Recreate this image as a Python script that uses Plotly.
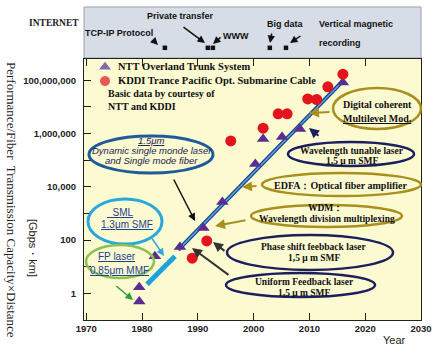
import plotly.graph_objects as go

# ---------------- data ----------------
ntt_year = [1979.5, 1979.5, 1982.3, 1986.8, 1991.0, 1994.4, 2000.3, 2001.7, 2005.1, 2008.3, 2016.0]
ntt_value = [1.7, 0.5, 25, 55, 285, 2700, 72000, 630000, 750000, 1.5e6, 8.3e7]

kddi_year = [1989.0, 1991.6, 1995.9, 2001.7, 2004.4, 2006.0, 2009.7, 2011.3, 2013.3, 2016.0]
kddi_value = [21, 93, 5.3e5, 1.6e6, 5.5e6, 5.5e6, 2.0e7, 1.9e7, 5.7e7, 1.7e8]

sml_trend_year = [1980.9, 1985.9]
sml_trend_value = [2.2, 25]
trend_year = [1986.5, 2016.0]
trend_value = [43, 9.5e7]

internet_year = [1984.1, 1991.8, 1992.7, 2002.9, 2005.8]
internet_level = [0.2, 0.2, 0.2, 0.2, 0.2]

series_names = ["NTT Overland Trunk System", "KDDI Trance Pacific Opt. Submarine Cable"]

x_ticks = [1970, 1980, 1990, 2000, 2010, 2020, 2030]
y_tickvals = [1, 10, 100, 1e3, 1e4, 1e5, 1e6, 1e7, 1e8]
y_ticktext = ["1", "", "100", "", "10,000", "", "1,000,000", "", "100,000,000"]

# ---------------- layout helpers (pixel -> paper) ----------------
W, H = 440, 348
L, R, T, B = 84, 421, 7, 320
PT = 59  # top of main plot


def PX(px):
    return (px - L) / (R - L)


def PY(py):
    return (B - py) / (B - T)


def FY(py):  # fraction of main plot height
    return (B - py) / (B - PT)


SERIF = "Liberation Serif"
SANS = "Liberation Sans"
PURPLE = "#5a2d91"
RED = "#e3141c"
NAVY = "#1b1f5e"
GOLD = "#a88f1f"
LBLUE = "#2aa7df"
GREEN = "#8cc152"
STEEL = "#1f5b99"

fig = go.Figure()

fig.add_trace(go.Scatter(x=sml_trend_year, y=sml_trend_value, mode="lines",
                         line=dict(color="#1aa3dd", width=5), showlegend=False, hoverinfo="skip"))
fig.add_trace(go.Scatter(x=trend_year, y=trend_value, mode="lines",
                         line=dict(color="#1d3f8a", width=4), showlegend=False, hoverinfo="skip"))
fig.add_trace(go.Scatter(x=trend_year, y=trend_value, mode="lines",
                         line=dict(color="#4fa6e0", width=1.5), showlegend=False, hoverinfo="skip"))

fig.add_trace(go.Scatter(x=ntt_year, y=ntt_value, mode="markers", name=series_names[0],
                         marker=dict(symbol="triangle-up", size=11, color=PURPLE), showlegend=False))
fig.add_trace(go.Scatter(x=kddi_year, y=kddi_value, mode="markers", name=series_names[1],
                         marker=dict(symbol="circle", size=11, color=RED), showlegend=False))

fig.add_trace(go.Scatter(x=internet_year, y=internet_level, mode="markers", xaxis="x2", yaxis="y2",
                         marker=dict(symbol="square", size=4.5, color="#111"),
                         showlegend=False, hoverinfo="skip"))

# legend glyphs (drawn on a helper overlay axis in plot-fraction units)
fig.add_trace(go.Scatter(x=[PX(105), PX(105)], y=[FY(67), FY(81)], mode="markers", xaxis="x3", yaxis="y4",
                         marker=dict(symbol=["triangle-up", "circle"], size=[12, 11], color=[PURPLE, RED]),
                         showlegend=False, hoverinfo="skip"))

shapes = []
shapes.append(dict(type="rect", xref="paper", yref="paper", x0=0, x1=1, y0=PY(58), y1=PY(7),
                   fillcolor="#d7dde6", line=dict(color="#9aa0a8", width=1), layer="below"))

ellipses = [
    (89, 213, 136, 173, STEEL, 3),
    (88, 162, 199, 244, LBLUE, 3),
    (86, 154, 245, 278, GREEN, 2.5),
    (333, 421, 88, 129, GOLD, 2.5),
    (288, 414, 142, 166, NAVY, 2.5),
    (262, 421, 173, 196, GOLD, 2.5),
    (251, 402, 205, 227, GOLD, 2.5),
    (227, 393, 235, 270, NAVY, 2.5),
    (226, 375, 273, 297, NAVY, 2.5),
]
for x0, x1, y0, y1, c, w in ellipses:
    shapes.append(dict(type="circle", xref="paper", yref="paper", x0=PX(x0), x1=PX(x1),
                       y0=PY(y1), y1=PY(y0), line=dict(color=c, width=w)))

ann = []


def text(cx, cy, s, size=10, family=SERIF, color="#111", xanchor="center", angle=0):
    ann.append(dict(x=PX(cx), y=PY(cy), xref="paper", yref="paper", text=s, showarrow=False,
                    xanchor=xanchor, yanchor="middle", textangle=angle,
                    font=dict(size=size, family=family, color=color)))


def arrow(tx, ty, hx, hy, color="#111", width=1.5):
    ann.append(dict(x=PX(hx), y=PY(hy), xref="paper", yref="paper", text="", showarrow=True,
                    ax=tx - hx, ay=ty - hy, arrowhead=2, arrowsize=1, arrowwidth=width,
                    arrowcolor=color))


# internet bar texts
text(54, 23, "<b>INTERNET</b>", 9.5, SERIF, "#222")
text(119, 33, "<b>TCP-IP Protocol</b>", 9, SANS, "#111")
text(180, 16, "<b>Private transfer</b>", 9, SANS, "#111")
text(236, 36, "<b>WWW</b>", 9, SANS, "#111")
text(285, 24, "<b>Big data</b>", 9, SANS, "#111")
text(317, 24, "<b>Vertical magnetic</b>", 9, SANS, "#111", xanchor="left")
text(317, 43, "<b>recording</b>", 9, SANS, "#111", xanchor="left")
arrow(152, 39, 158, 45)
arrow(182, 26, 205, 43)
arrow(222, 36, 213, 44)
arrow(272, 32, 270, 43)
arrow(302, 35, 290, 43)

# legend texts
text(116, 66, "<b>" + series_names[0] + "</b>", 10.5, SERIF, "#111", xanchor="left")
text(116, 81, "<b>" + series_names[1] + "</b>", 10.5, SERIF, "#111", xanchor="left")
text(106, 94, "<b>Basic data by courtesy of</b>", 10, SERIF, "#111", xanchor="left")
text(106, 106, "<b>NTT and KDDI</b>", 10, SERIF, "#111", xanchor="left")

# ellipse texts
text(151, 140, "<i><u>1.5μm</u></i>", 9.5, SANS, "#1a2450")
text(152, 150, "<i>Dynamic single monde laser</i>", 9.5, SANS, "#1a2450")
text(151, 161, "<i>and Single mode fiber</i>", 9.5, SANS, "#1a2450")

text(120, 212, "<u>  SML</u>", 10, SANS, "#1f3f8f")
text(127, 224, "<u>1.3μm SMF</u>", 10, SANS, "#1f3f8f")
text(117, 256, "<u>FP laser</u>", 10, SANS, "#1f3f8f")
text(119, 270, "<u>0.85μm MMF</u>", 10, SANS, "#1f3f8f")

text(377, 105, "<b>Digital coherent</b>", 10, SERIF)
text(377, 118, "<b><u>Multilevel Mod.</u></b>", 10, SERIF)
text(352, 151, "<b>Wavelength tunable laser</b>", 9.5, SERIF)
text(352, 161, "<b>1,5 μ m SMF</b>", 9.5, SERIF)
text(341, 185, "<b>EDFA：Optical fiber amplifier</b>", 10, SERIF)
text(325, 208, "<b>WDM：</b>", 9.5, SERIF)
text(327, 219, "<b>Wavelength division multiplexing</b>", 9.5, SERIF)
text(314, 247, "<b>Phase shift feebback laser</b>", 9.5, SERIF)
text(314, 258, "<b>1,5 μ m SMF</b>", 9.5, SERIF)
text(304, 282, "<b>Uniform Feedback laser</b>", 9.5, SERIF)
text(304, 293, "<b>1,5 μ m SMF</b>", 9.5, SERIF)

# arrows in plot
arrow(173, 178, 195, 221, "#111", 1.5)
arrow(151, 237, 164, 256, LBLUE, 1.5)
arrow(115, 285, 133, 300, "#2e9a3a", 1.5)
arrow(331, 112, 309, 113, GOLD, 2)
arrow(320, 137, 309, 128, NAVY, 2)
arrow(258, 186, 242, 187, GOLD, 2)
arrow(247, 220, 215, 226, GOLD, 2)
arrow(226, 252, 213, 242, "#333", 2)
arrow(230, 276, 192, 248, "#333", 2)

# axis titles
text(12, 200, "Performance/Fiber  Transmission Capacity×Distance", 13, SERIF, "#222", angle=90)
text(33, 248, "[Gbps・km]", 11, SANS, "#222", angle=90)
text(394, 340, "Year", 11, SANS, "#222")

main_dom = [0, (B - PT) / (B - T)]

fig.update_layout(
    width=W, height=H,
    margin=dict(l=L, r=W - R, t=T, b=H - B),
    paper_bgcolor="white",
    plot_bgcolor="#fcfad0",
    shapes=shapes,
    annotations=ann,
    showlegend=False,
    xaxis=dict(range=[1969.6, 2030], tickvals=x_ticks, ticks="inside", ticklen=7,
               tickcolor="#222", showline=True, linecolor="#222", linewidth=1, mirror="ticks",
               showgrid=False, zeroline=False, domain=[0, 1],
               tickfont=dict(family=SANS, size=9.5, color="#222", weight="bold")),
    yaxis=dict(type="log", range=[-1.0, 8.8], tickvals=y_tickvals, ticktext=y_ticktext,
               ticks="inside", ticklen=7, tickcolor="#222", showline=True, linecolor="#222",
               linewidth=1, mirror=True, showgrid=False, zeroline=False,
               domain=main_dom, ticklabelstandoff=5,
               tickfont=dict(family=SANS, size=9.5, color="#222", weight="bold")),
    yaxis3=dict(overlaying="y", side="right", anchor="x", range=[-1.066, 5.56],
                tickvals=[0, 1, 2, 3, 4, 5], ticks="inside", ticklen=6, tickcolor="#444",
                showticklabels=False, showgrid=False, zeroline=False, showline=False),
    xaxis2=dict(anchor="y2", range=[1969.6, 2030], visible=False, domain=[0, 1]),
    yaxis2=dict(anchor="x2", range=[0, 1], visible=False, domain=[(B - 58) / (B - T), 1]),
    xaxis3=dict(overlaying="x", anchor="y4", range=[0, 1], visible=False),
    yaxis4=dict(overlaying="y", anchor="x3", range=[0, 1], visible=False),
)

fig.write_html("out.html")
